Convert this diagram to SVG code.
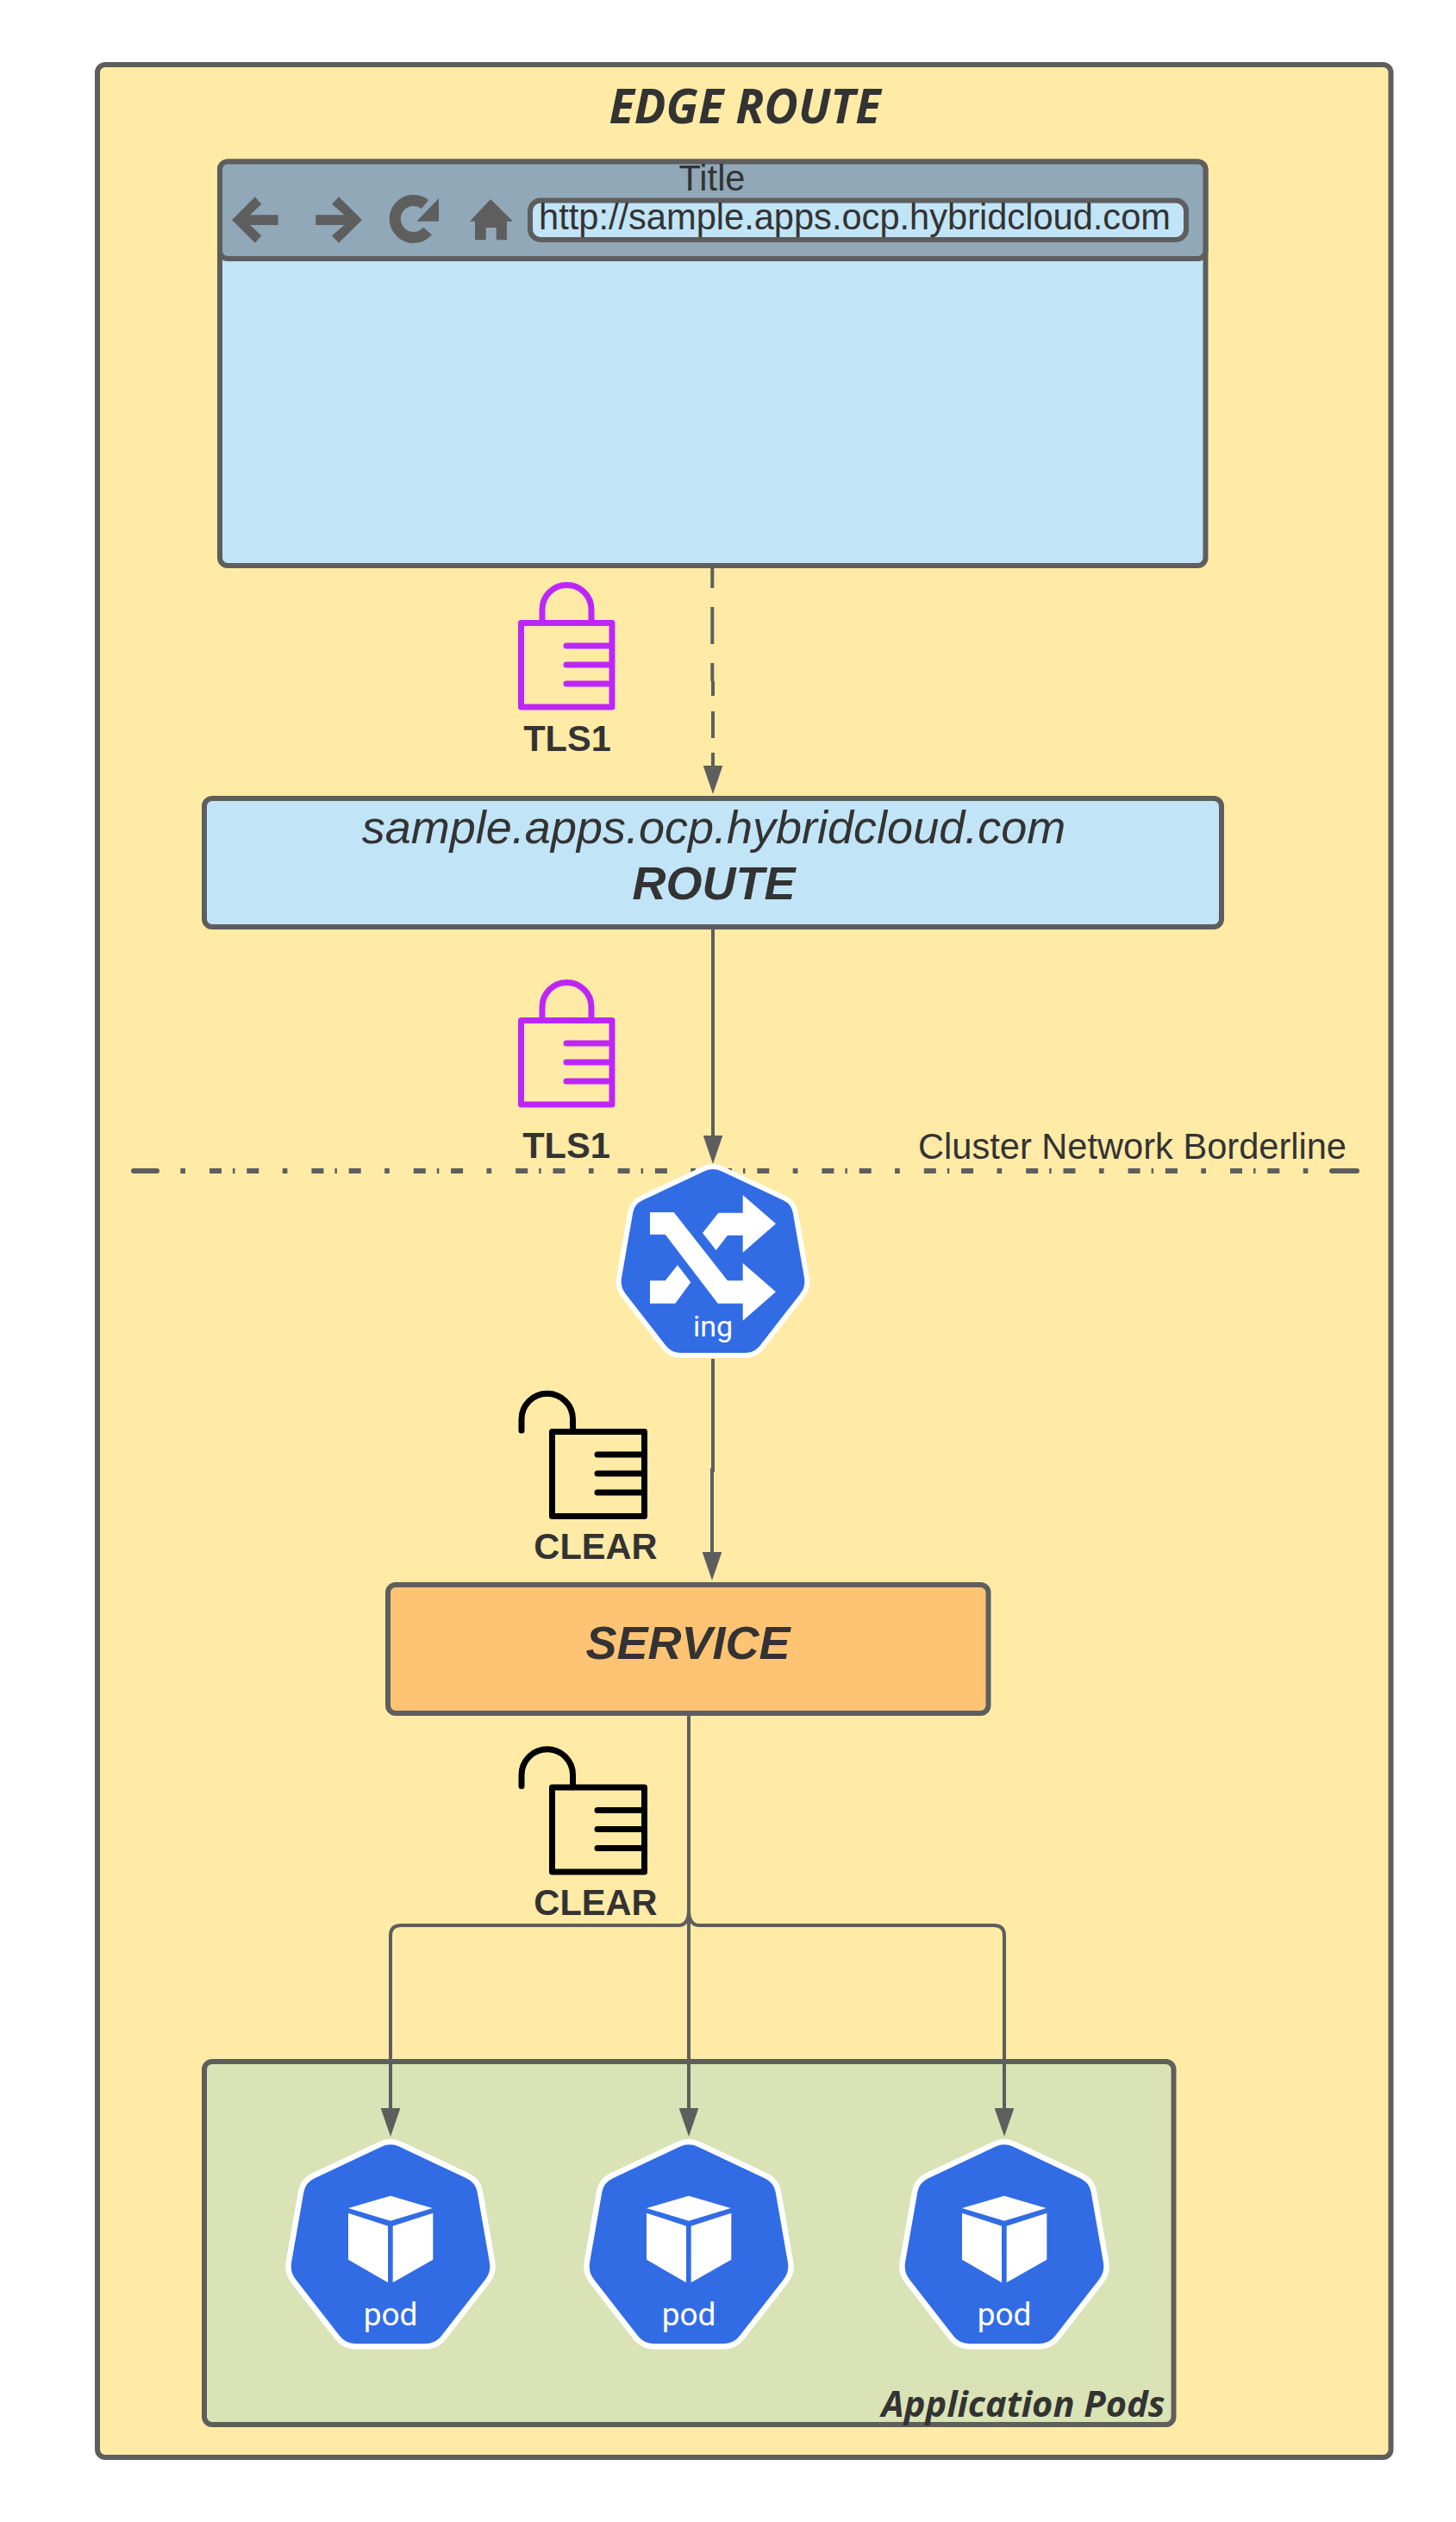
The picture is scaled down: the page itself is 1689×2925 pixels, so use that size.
<svg xmlns="http://www.w3.org/2000/svg" width="1689" height="2925" viewBox="0 0 1689 2925">
<style>
.box{stroke:#5e5e5e;stroke-width:6}
.t{font-family:"Liberation Sans",Arial,sans-serif;fill:#333;text-anchor:middle}
.b{font-weight:700}
.i{font-style:italic}
.hd{font-family:"Open Sans","Liberation Sans",sans-serif;font-weight:700;font-style:italic;fill:#333;text-anchor:middle}
.k{font-family:Roboto,"Liberation Sans",sans-serif;font-size:37px;fill:#fff;text-anchor:middle}
.k2{font-size:34px}
.ic{fill:#5e5e5e}
.conn{fill:none;stroke:#5e5e5e;stroke-width:4}
.bl{fill:none;stroke:#5e5e5e;stroke-width:6}
.lock{fill:none;stroke-width:7;stroke-linecap:round;stroke-linejoin:round}
.lock .s{stroke-linecap:butt}
.purple{stroke:#bd26f8}
.black{stroke:#000}
</style>
<defs>
<marker id="ah" markerUnits="userSpaceOnUse" markerWidth="34" markerHeight="22" refX="2" refY="11" viewBox="0 0 34 22" orient="auto"><path d="M0,0H1L33,11L1,22H0Z" fill="#5e5e5e"/></marker>
<path id="hept" d="M-10.900,-116.400Q0,-121.500 10.900,-116.400L82.800,-82.600Q93.700,-77.500 95.800,-65.700L108.900,9.200Q111,21 103.600,30.500L56.900,90.500Q49.500,100 37.500,100L-37.500,100Q-49.500,100 -56.900,90.500L-103.600,30.500Q-111,21 -108.900,9.200L-95.800,-65.700Q-93.700,-77.500 -82.800,-82.600Z" fill="#326ce5" stroke="#fff" stroke-width="6"/>
<g id="cube" fill="#fff"><path d="M0,-66.300L48.700,-52L0,-37.300L-49,-52Z"/><path d="M-49,-46.300L-3,-31.300L-3,34.300L-49,7.700Z"/><path d="M2.700,-31.300L49.300,-46.300L49.300,7.700L2.700,34.300Z"/></g>
<g id="closed"><rect x="604.500" y="722.500" width="105.500" height="97.500"/><path class="s" d="M629,722V707A28.500,28.500 0 0 1 686,707V722"/><path d="M657,749H707M657,771H707M657,793H707"/></g>
<g id="open"><rect x="640.500" y="1660.500" width="107" height="98"/><path class="s" d="M605,1659V1646A29.700,29.700 0 0 1 664.500,1646V1660"/><path d="M693,1687H745M693,1709H745M693,1731H745"/></g>
</defs>
<rect width="1689" height="2925" fill="#fff"/>
<g id="edge-route"><rect x="113" y="75" width="1500.500" height="2775" rx="9" fill="#ffeba6" class="box"/><text class="hd" x="864" y="143" font-size="56" textLength="315" lengthAdjust="spacingAndGlyphs">EDGE ROUTE</text></g>
<g id="browser">
<rect x="255" y="187.500" width="1143.500" height="468.500" rx="9" fill="#c1e4f7" class="box"/>
<rect x="255" y="187.500" width="1143.500" height="112.500" rx="9" fill="#90a8b7" class="box"/>
<text class="t" x="826" y="221" font-size="41.600">Title</text>
<path class="ic" d="M269,255L295.800,228.300L303.400,236.700L290,249.300H322.600V261H290L303.400,273.300L295.800,281.700Z"/>
<path class="ic" d="M420,255L393,228.300L385,236.700L399.400,249.300H366.300V261H399.400L385,273.300L393,281.700Z"/>
<path d="M493,237A21.500,21.500 0 1 0 496,268" fill="none" stroke="#5e5e5e" stroke-width="13"/>
<path class="ic" d="M509,230V256.700H483.300Z"/>
<path class="ic" d="M569,231L595,256.700H588V278.300H575.700V264H563.700V278.300H551V256.700H545Z"/>
<rect x="615" y="232.500" width="761" height="45.500" rx="12" fill="#c1e4f7" class="box"/>
<text class="t" x="991.500" y="266" font-size="41.600">http://sample.apps.ocp.hybridcloud.com</text>
</g>
<g id="route"><rect x="237" y="926" width="1180" height="149" rx="9" fill="#c1e4f7" class="box"/><text class="t i" x="828" y="978" font-size="54">sample.apps.ocp.hybridcloud.com</text><text class="t b i" x="828" y="1043" font-size="54">ROUTE</text></g>
<g id="service"><rect x="450" y="1838" width="696.500" height="149" rx="9" fill="#ffc374" class="box"/><text class="t b i" x="798" y="1924" font-size="54">SERVICE</text></g>
<g id="application-pods"><rect x="237" y="2391" width="1124.500" height="421" rx="9" fill="#d9e3b5" class="box"/><text class="hd" x="1187" y="2803" font-size="42" textLength="329" lengthAdjust="spacingAndGlyphs">Application Pods</text></g>
<g id="borderline"><path class="bl" d="M155,1358H182" stroke-linecap="round"/><path class="bl" d="M209.300,1358H1518" stroke-dasharray="5.700 28 14 13 2.500 13.800 14 27.400"/><path class="bl" d="M1545,1358H1574" stroke-linecap="round"/><text class="t" x="1313.500" y="1344" font-size="41.600">Cluster Network Borderline</text></g>
<g id="connectors">
<path class="conn" d="M826.300,659V790" stroke-dasharray="23 22 43 22 21"/>
<path class="conn" d="M827,790V890" stroke-dasharray="17 18 31 17 100" marker-end="url(#ah)"/>
<path class="conn" d="M827,1075V1319" marker-end="url(#ah)"/>
<path class="conn" d="M827,1576V1705H826V1802" marker-end="url(#ah)"/>
<path class="conn" d="M799,1987V2447" marker-end="url(#ah)"/>
<path class="conn" d="M799,2215Q799,2233 787,2233H465Q453,2233 453,2245V2447" marker-end="url(#ah)"/>
<path class="conn" d="M799,2215Q799,2233 811,2233H1153Q1165,2233 1165,2245V2447" marker-end="url(#ah)"/>
</g>
<g id="ing"><use href="#hept" transform="translate(827,1472)"/>
<path fill="#fff" d="M754,1406H781.700L844,1485.300H861.700V1465L900,1498.300L861.700,1531.700V1511.700H832.700L771.700,1431.700H754Z"/>
<path fill="#fff" d="M815,1430L833.300,1406.700H861.700V1386L900,1419.300L861.700,1452.700V1432.700H844L830.700,1450Z"/>
<path fill="#fff" d="M754,1485.300H771.700L786,1467.300L801.300,1487.300L783.300,1511.700H754Z"/>
<text class="k k2" x="827" y="1550">ing</text></g>
<g id="pod1"><use href="#hept" transform="translate(453,2613) scale(1.084)"/><use href="#cube" transform="translate(453,2613)"/><text class="k" x="453" y="2697">pod</text></g>
<g id="pod2"><use href="#hept" transform="translate(799,2613) scale(1.084)"/><use href="#cube" transform="translate(799,2613)"/><text class="k" x="799" y="2697">pod</text></g>
<g id="pod3"><use href="#hept" transform="translate(1165,2613) scale(1.084)"/><use href="#cube" transform="translate(1165,2613)"/><text class="k" x="1165" y="2697">pod</text></g>
<g id="lock-tls-1"><use href="#closed" class="lock purple"/><text class="t b" x="658" y="871" font-size="41.600">TLS1</text></g>
<g id="lock-tls-2"><use href="#closed" class="lock purple" transform="translate(0,461)"/><text class="t b" x="657" y="1343" font-size="41.600">TLS1</text></g>
<g id="lock-clear-1"><use href="#open" class="lock black"/><text class="t b" x="691" y="1808" font-size="41.600">CLEAR</text></g>
<g id="lock-clear-2"><use href="#open" class="lock black" transform="translate(0,412.600)"/><text class="t b" x="691" y="2221" font-size="41.600">CLEAR</text></g>
</svg>
